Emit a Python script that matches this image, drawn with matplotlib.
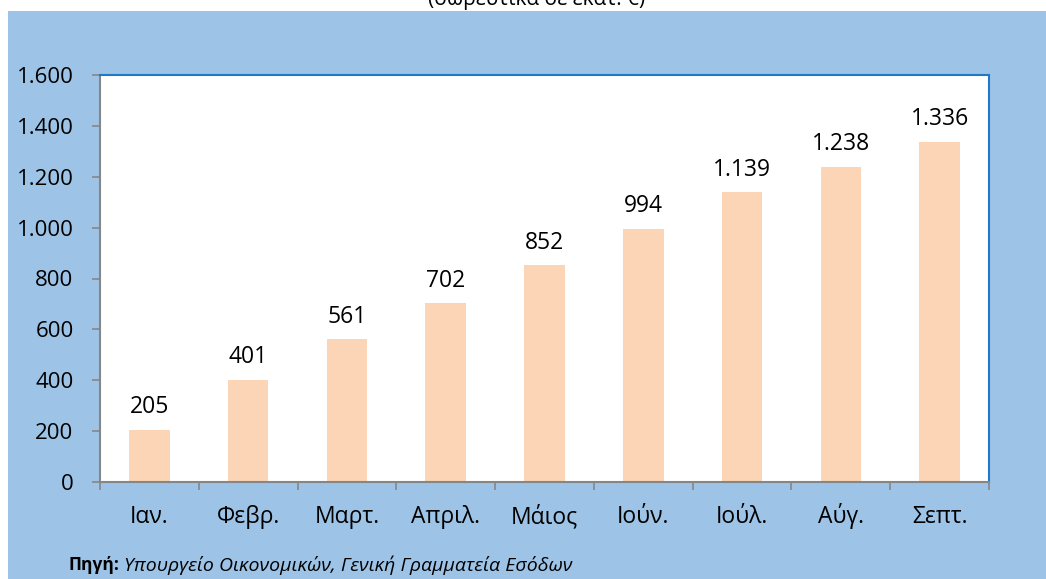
import matplotlib
matplotlib.use("Agg")
import matplotlib.pyplot as plt
from matplotlib.patches import Rectangle
import numpy as np

months = ["Ιαν.", "Φεβρ.", "Μαρτ.", "Απριλ.", "Μάιος", "Ιούν.", "Ιούλ.", "Αύγ.", "Σεπτ."]
values = [205, 401, 561, 702, 852, 994, 1139, 1238, 1336]
yticks = [0, 200, 400, 600, 800, 1000, 1200, 1400, 1600]

BG = "#9DC3E6"
BAR = "#FBD5B5"
AXIS = "#868686"
FRAME = "#1F78C8"

plt.rcParams["font.family"] = ["Open Sans", "DejaVu Sans"]


def greek_thousands(v):
    return f"{v:,}".replace(",", ".")


W, H = 1046, 579
fig = plt.figure(figsize=(W / 100, H / 100), dpi=100, facecolor="white")
fig.patches.append(Rectangle((8 / W, 0), 1 - 8 / W, (H - 11) / H,
                             transform=fig.transFigure, facecolor=BG,
                             edgecolor="none", zorder=-10))

# title is cut off by the top of the picture
fig.text(537 / W, 1 - 5 / H, "(σωρευτικά σε εκατ. €)", ha="center", va="baseline",
         fontsize=15, color="black")

ax = fig.add_axes([100 / W, (H - 482) / H, 889 / W, 407 / H])
ax.set_zorder(5)
ax.set_facecolor("white")

x = np.arange(len(months))
ax.bar(x, values, width=0.41, color=BAR, zorder=2)
for xi, v in zip(x, values):
    ax.annotate(greek_thousands(v), (xi, v), xytext=(0, 12),
                textcoords="offset points", ha="center", va="baseline",
                fontsize=16.5, color="black")

# month names share one baseline (accents must not push them down)
for xi, m in zip(x, months):
    ax.annotate(m, (xi, 0), xycoords=("data", "axes fraction"),
                xytext=(0, -29.5), textcoords="offset points",
                ha="center", va="baseline", fontsize=16.5, annotation_clip=False)

ax.set_xlim(-0.5, len(months) - 0.5)
ax.set_ylim(0, 1600)

ax.set_yticks(yticks)
ax.set_yticklabels([greek_thousands(t) for t in yticks])
ax.set_xticks(np.arange(len(months) + 1) - 0.5)
ax.set_xticklabels([])

ax.tick_params(axis="y", length=6, width=1.2, color=AXIS, pad=13, labelsize=16)
ax.tick_params(axis="x", length=6, width=1.2, color=AXIS)

for side in ("left", "bottom"):
    ax.spines[side].set_color(AXIS)
    ax.spines[side].set_linewidth(1.5)
for side in ("top", "right"):
    ax.spines[side].set_color(FRAME)
    ax.spines[side].set_linewidth(1.5)

fig.text(68 / W, 1 - 565 / H, "Πηγή:", ha="left", va="center",
         fontsize=12.5, fontweight="bold")
fig.text(124 / W, 1 - 565 / H, "Υπουργείο Οικονομικών, Γενική Γραμματεία Εσόδων",
         ha="left", va="center", fontsize=14, style="italic")

fig.savefig("out.png", dpi=100, facecolor="white")
